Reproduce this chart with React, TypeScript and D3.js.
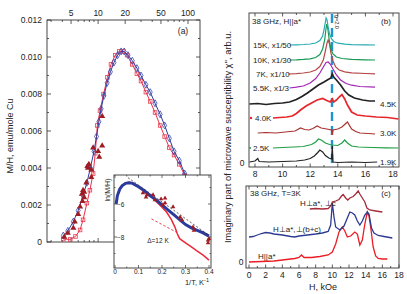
import React from 'react'
import * as d3 from 'd3'

// ---------- panel (a): M/H vs T ----------
const blueT = [4.1, 4.6, 5.3, 6.0, 6.8, 7.5, 8.2, 9.0, 9.6, 10.2, 10.8, 11.6, 12.6, 13.7, 15.0, 16.5, 18.0, 19.5, 21.5, 24, 27, 30, 34, 38, 43, 49, 55, 62, 70, 80, 92, 105, 120]
const blueMH = [0.00035, 0.0006, 0.0011, 0.0017, 0.0025, 0.0032, 0.0040, 0.0049, 0.0057, 0.0065, 0.0072, 0.0079, 0.0086, 0.0092, 0.0097, 0.0101, 0.0103, 0.0103, 0.0101, 0.0098, 0.0094, 0.0090, 0.0085, 0.0081, 0.0075, 0.0069, 0.0063, 0.0056, 0.0049, 0.0044, 0.0037, 0.0031, 0.0026]
const redT = [4.1, 4.9, 5.6, 6.3, 6.8, 7.5, 8.1, 8.8, 9.3, 9.8, 10.5, 11.5, 12.7, 13.9, 15.5, 17.2, 19, 21, 24, 27, 30, 34, 38, 43, 49, 55, 62, 70, 80, 92, 105, 120]
const redMH = [0.00016, 0.00014, 0.0003, 0.00065, 0.0012, 0.0021, 0.0028, 0.0037, 0.0048, 0.0063, 0.0071, 0.0080, 0.0089, 0.0096, 0.0101, 0.0103, 0.0103, 0.0101, 0.0096, 0.0091, 0.0087, 0.0081, 0.0076, 0.0070, 0.0063, 0.0057, 0.0051, 0.0047, 0.0042, 0.0036, 0.0030, 0.0025]
const triT = [4.2, 4.6, 5.3, 5.5, 6.0, 6.3, 6.6, 6.7, 6.8, 7.0, 7.0, 7.4, 7.6, 7.7, 7.9, 8.4, 8.4, 8.8, 10.0, 10.3, 11.1, 11.1]
const triMH = [0.00027, 0.00049, 0.00076, 0.0011, 0.0015, 0.0019, 0.0026, 0.0022, 0.0028, 0.0024, 0.0027, 0.0032, 0.0041, 0.0040, 0.0042, 0.0039, 0.0035, 0.0051, 0.0049, 0.0046, 0.0052, 0.0068]
const topTicks = [5, 10, 20, 50, 100]
const minorT = [3, 4, 5, 6, 7, 8, 9, 10, 20, 30, 40, 50, 60, 70, 80, 90, 100]
const mhTicks = [0, 0.002, 0.004, 0.006, 0.008, 0.010, 0.012]
const mhLabels = ['0', '0.002', '0.004', '0.006', '0.008', '0.010', '0.012']

// inset: ln(M/H) vs 1/T
const invBlue = [0.005, 0.01, 0.02, 0.03, 0.045, 0.06, 0.075, 0.1, 0.125, 0.15, 0.175, 0.2, 0.225, 0.25, 0.275, 0.3, 0.325, 0.35, 0.375, 0.4]
const lnBlue = [-6.0, -5.5, -5.1, -4.9, -4.75, -4.72, -4.75, -4.95, -5.2, -5.5, -5.75, -6.05, -6.35, -6.65, -6.95, -7.25, -7.45, -7.6, -7.75, -7.95]
const invRed = [0.005, 0.01, 0.02, 0.03, 0.045, 0.06, 0.075, 0.1, 0.125, 0.15, 0.175, 0.2, 0.22, 0.24, 0.255, 0.265, 0.275, 0.3, 0.325, 0.35, 0.375, 0.4]
const lnRed = [-6.0, -5.5, -5.1, -4.88, -4.72, -4.68, -4.72, -4.92, -5.18, -5.5, -5.85, -6.2, -6.5, -6.95, -7.4, -7.8, -8.1, -8.35, -8.6, -8.85, -9.1, -9.4]
const invTri = [0.119, 0.132, 0.136, 0.162, 0.17, 0.196, 0.204, 0.213, 0.213, 0.247, 0.277, 0.285, 0.332, 0.336, 0.396, 0.396, 0.4]
const lnTri = [-5.33, -5.58, -5.45, -5.45, -5.76, -5.7, -6.06, -5.94, -5.64, -6.18, -6.8, -6.97, -7.4, -7.6, -8.2, -8.36, -8.1]
const fitBlue = [[0.055, -4.4], [0.4, -7.9]]
const fitRed = [[0.155, -6.9], [0.26, -7.7]]
const invTicks = [0, 0.1, 0.2, 0.3, 0.4]
const lnTicks = [-6, -8]

// ---------- panel (b): chi'' vs H at several T, H||a* ----------
const bLabels = ['1.9K', '2.5K', '3.0K', '4.0K', '4.5K', '5.5K, x1/3', '7K, x1/10', '10K, x1/30', '15K, x1/50']
const bOffsets = [0, 1.4, 2.9, 4.4, 5.8, 7.4, 8.8, 10.2, 11.7]
const b19 = [[7.6, 0], [8.0, 0.1], [8.2, 0.35], [8.3, 0.05], [9.0, 0], [10.0, 0.05], [11.0, 0.1], [11.6, 0.2], [12.0, 0.35], [12.3, 0.6], [12.55, 0.95], [12.7, 1.2], [12.9, 1.0], [13.1, 0.65], [13.35, 0.4], [13.55, 0.3], [13.6, 1.6], [13.65, 0.0], [14.0, -0.05], [15.0, 0], [16.0, -0.05], [16.85, 0]]
const b25 = [[9.3, 0], [10.0, 0.05], [10.8, 0.1], [11.5, 0.15], [12.1, 0.35], [12.4, 0.6], [12.6, 0.9], [12.8, 0.8], [13.1, 0.5], [13.4, 0.35], [13.6, 0.3], [14.0, 0.25], [14.3, 0.5], [14.5, 0.8], [14.7, 0.5], [15.0, 0.2], [15.5, 0.1], [16.5, 0.05], [17.5, 0.02], [18.4, 0]]
const b30 = [[8.2, 0], [8.8, 0.05], [9.5, 0], [10.2, 0.1], [10.9, 0.2], [11.3, 0.5], [11.6, 0.35], [11.9, 0.3], [12.2, 0.45], [12.5, 0.7], [12.8, 0.5], [13.2, 0.4], [13.55, 0.3], [13.6, -0.2], [13.65, 0.3], [14.0, 0.4], [14.3, 0.6], [14.7, 1.1], [15.0, 0.4], [15.3, 0.15], [15.6, 0], [16.2, -0.05], [16.7, -0.1]]
const b40 = [[9.3, 0], [9.8, 0.05], [10.3, 0.1], [10.7, 0.2], [11.0, 0.45], [11.3, 0.8], [11.7, 1.2], [12.1, 1.5], [12.5, 1.8], [12.9, 1.95], [13.2, 1.75], [13.45, 1.6], [13.6, 1.9], [13.7, 1.6], [13.9, 1.8], [14.1, 2.1], [14.3, 2.35], [14.5, 1.9], [14.7, 1.3], [15.0, 0.6], [15.4, 0.3], [16.0, 0.2], [16.8, 0.1], [17.6, 0.05], [18.4, -0.1]]
const b45 = [[7.6, 0], [8.2, 0.05], [8.8, -0.05], [9.4, 0.05], [10.0, 0.1], [10.5, 0.2], [11.0, 0.45], [11.4, 0.75], [11.8, 1.1], [12.2, 1.5], [12.6, 1.9], [13.0, 2.2], [13.3, 2.45], [13.5, 2.6], [13.6, 3.0], [13.7, 2.7], [13.9, 2.4], [14.2, 1.9], [14.5, 1.3], [14.8, 0.9], [15.2, 0.6], [15.8, 0.4], [16.3, 0.3], [16.7, 0.3]]
const b55 = [[10.5, 0], [11.0, 0.08], [11.5, 0.2], [12.0, 0.5], [12.4, 0.95], [12.7, 1.5], [12.95, 2.1], [13.15, 2.55], [13.3, 2.6], [13.45, 2.4], [13.65, 1.9], [13.9, 1.3], [14.2, 0.8], [14.6, 0.45], [15.0, 0.28], [15.6, 0.15], [16.7, 0.08]]
const b7 = [[10.4, 0], [11.0, 0.04], [11.5, 0.1], [12.0, 0.2], [12.4, 0.4], [12.7, 0.75], [12.95, 1.4], [13.1, 2.3], [13.22, 3.1], [13.3, 3.4], [13.4, 3.0], [13.5, 2.1], [13.65, 1.3], [13.85, 0.7], [14.1, 0.4], [14.5, 0.22], [15.0, 0.12], [16.0, 0.05], [16.7, 0.02]]
const b10 = [[10.5, 0], [11.0, 0.02], [11.5, 0.06], [12.0, 0.12], [12.4, 0.25], [12.7, 0.55], [12.9, 1.1], [13.05, 2.0], [13.15, 3.2], [13.2, 3.6], [13.28, 3.1], [13.38, 2.0], [13.5, 1.1], [13.65, 0.6], [13.9, 0.3], [14.3, 0.15], [15.0, 0.06], [16.0, 0.02], [16.7, 0]]
const b15 = [[10.5, 0], [11.0, 0.02], [11.5, 0.05], [12.0, 0.1], [12.4, 0.2], [12.7, 0.45], [12.9, 0.9], [13.0, 1.5], [13.1, 2.3], [13.15, 2.7], [13.22, 2.5], [13.3, 1.8], [13.4, 1.1], [13.55, 0.6], [13.7, 0.35], [14.0, 0.18], [14.5, 0.08], [15.0, 0.04], [16.0, 0.02], [16.7, 0]]
const bTraces = [b19, b25, b30, b40, b45, b55, b7, b10, b15]
const gField = 13.58
const bTicks = [8, 10, 12, 14, 16, 18]

// ---------- panel (c): chi'' vs H at T=3K, three orientations ----------
const cLabels = ['H||a*', 'H\u22a5a*,\u22a5(b+c)', 'H\u22a5a*, \u22a5c']
const cOffsets = [0, 2.5, 5.3]
const cPar = [[0, 0], [1.5, 0.05], [3, 0.1], [4.5, 0.25], [5.5, 0.35], [6.0, 0.45], [6.3, 0.7], [6.6, 0.45], [7.5, 0.45], [8.5, 0.55], [9.5, 0.7], [10.0, 1.0], [10.4, 1.8], [10.8, 3.0], [11.2, 3.5], [11.5, 3.1], [11.8, 2.5], [12.2, 2.6], [12.7, 3.0], [13.0, 2.8], [13.3, 1.7], [13.6, 2.2], [13.9, 3.8], [14.2, 5.0], [14.4, 4.6], [14.6, 3.5], [14.9, 1.5], [15.2, 0.6], [15.5, 0.35], [16.0, 0.3], [16.6, 0.3]]
const cPerpBC = [[0, 0], [0.5, 0.05], [1.0, 0.2], [1.5, 0.35], [2.0, 0.45], [2.5, 0.4], [3.0, 0.3], [4.0, 0.2], [5.0, 0.05], [5.5, 0], [6.0, 0.1], [7.0, 0.2], [8.0, 0.3], [8.8, 0.4], [9.5, 0.55], [9.8, 1.2], [10.0, 3.4], [10.2, 2.0], [10.4, 1.0], [10.9, 0.7], [11.4, 1.1], [11.8, 1.9], [12.1, 2.5], [12.4, 2.4], [12.7, 2.2], [13.0, 1.6], [13.3, 1.2], [13.6, 1.6], [13.9, 2.2], [14.2, 2.5], [14.4, 2.3], [14.7, 0.9], [15.0, 0.4], [15.5, 0.15], [16.2, 0.05], [17.2, -0.1]]
const cPerpC = [[7.3, 0], [8.0, 0.05], [8.8, 0], [9.5, 0.05], [9.8, 0.3], [10.0, 0.7], [10.4, 0.8], [10.8, 0.95], [11.1, 1.3], [11.3, 1.45], [11.6, 1.1], [11.85, 0.9], [12.1, 1.1], [12.5, 1.25], [12.8, 1.5], [13.1, 1.8], [13.3, 1.5], [13.6, 1.1], [13.9, 0.7], [14.15, 0.1], [14.5, -0.1], [15.2, -0.2], [16.0, -0.3]]
const cTraces = [cPar, cPerpBC, cPerpC]
const cTicks = [0, 2, 4, 6, 8, 10, 12, 14, 16, 18]

const FONT = '"Liberation Sans", Arial, Helvetica, sans-serif'
const bColors = ['#222', '#1f9e45', '#a8322f', '#e8262a', '#222', '#a226b4', '#b44848', '#1a9a55', '#27aab0']
const cColors = ['#ec1c24', '#2c3a94', '#a52a3a']

export default function App() {
  // scales
  const xA = d3.scaleLog().domain([2.7, 136]).range([47, 200])
  const yA = d3.scaleLinear().domain([0, 0.012]).range([242, 20])
  const xI = d3.scaleLinear().domain([0, 0.4]).range([115, 209])
  const yI = d3.scaleLinear().domain([-8, -6]).range([237, 204])
  const xB = d3.scaleLinear().domain([8, 18]).range([255, 393])
  const yB = d3.scaleLinear().domain([0, 10]).range([162, 62])
  const xC = d3.scaleLinear().domain([0, 18]).range([249, 399])
  const yC = d3.scaleLinear().domain([0, 10]).range([262, 162])

  const lineA = d3.line<[number, number]>().x(d => xA(d[0])).y(d => yA(d[1]))
  const lineI = d3.line<number[]>().x(d => xI(d[0])).y(d => yI(d[1]))
  const blue = d3.zip(blueT, blueMH) as [number, number][]
  const red = d3.zip(redT, redMH) as [number, number][]
  const tri = d3.zip(triT, triMH) as [number, number][]
  const iBlue = d3.zip(invBlue, lnBlue)
  const iRed = d3.zip(invRed, lnRed)
  const iTri = d3.zip(invTri, lnTri)
  const diamond = d3.symbol(d3.symbolDiamond, 14)()
  const triangle = d3.symbol(d3.symbolTriangle, 16)()
  const triSmall = d3.symbol(d3.symbolTriangle, 9)()

  // frames
  const A = { l: 47, r: 200, t: 20, b: 242 }
  const I = { l: 114, r: 211, t: 175, b: 268 }
  const B = { l: 249, r: 399, t: 13, b: 167 }
  const C = { l: 246, r: 399, t: 186, b: 268 }

  const txt = { fontFamily: FONT, fill: '#222' }

  return (
    <svg width={407} height={294} style={{ position: 'absolute', left: 0, top: 0, background: '#fff' }}>
      <rect width={407} height={294} fill="#fff" />

      {/* ===== panel (a) ===== */}
      <g>
        <rect x={A.l} y={A.t} width={A.r - A.l} height={A.b - A.t} fill="none" stroke="#333" strokeWidth={0.9} />
        {d3.range(0, 13).map(i => {
          const y = yA(i * 0.001)
          const len = i % 2 === 0 ? 4 : 2
          return (
            <g key={'ya' + i}>
              <line x1={A.l} x2={A.l + len} y1={y} y2={y} stroke="#333" strokeWidth={0.8} />
              <line x1={A.r} x2={A.r - len} y1={y} y2={y} stroke="#333" strokeWidth={0.8} />
            </g>
          )
        })}
        {minorT.map(t => {
          const x = xA(t)
          const len = topTicks.includes(t) ? 4 : 2
          return (
            <g key={'ta' + t}>
              <line x1={x} x2={x} y1={A.t} y2={A.t + len} stroke="#333" strokeWidth={0.8} />
              <line x1={x} x2={x} y1={A.b} y2={A.b - len} stroke="#333" strokeWidth={0.8} />
            </g>
          )
        })}
        {mhTicks.map((v, i) => (
          <text key={'yl' + i} x={A.l - 5} y={yA(v) + 3} textAnchor="end" fontSize={8.5} {...txt}>{mhLabels[i]}</text>
        ))}
        {topTicks.map(t => (
          <text key={'tl' + t} x={xA(t)} y={16} textAnchor="middle" fontSize={8.5} {...txt}>{t}</text>
        ))}
        <text transform="translate(13,136) rotate(-90)" textAnchor="middle" fontSize={9} {...txt}>M/H, emu/mole Cu</text>
        <text x={183} y={34} textAnchor="middle" fontSize={8.5} {...txt}>(a)</text>

        <path d={lineA(red) || ''} fill="none" stroke="#e8304a" strokeWidth={1} />
        {red.map((d, i) => (
          <rect key={'rs' + i} x={xA(d[0]) - 1.8} y={yA(d[1]) - 1.8} width={3.6} height={3.6} fill="none" stroke="#ea3a50" strokeWidth={0.8} />
        ))}
        <path d={lineA(blue) || ''} fill="none" stroke="#2d3a9a" strokeWidth={1} />
        {blue.map((d, i) => (
          <path key={'bd' + i} d={diamond || ''} transform={`translate(${xA(d[0])},${yA(d[1])})`} fill="none" stroke="#3846ac" strokeWidth={0.8} />
        ))}
        {tri.map((d, i) => (
          <path key={'tr' + i} d={triangle || ''} transform={`translate(${xA(d[0])},${yA(d[1])})`} fill="#9e1c22" />
        ))}
      </g>

      {/* ===== inset ===== */}
      <g>
        <rect x={I.l} y={I.t} width={I.r - I.l} height={I.b - I.t} fill="#fff" stroke="#333" strokeWidth={0.9} />
        {d3.range(0, 9).map(i => {
          const x = xI(i * 0.05)
          const len = i % 2 === 0 ? 3 : 1.5
          return (
            <g key={'xi' + i}>
              <line x1={x} x2={x} y1={I.b} y2={I.b - len} stroke="#333" strokeWidth={0.7} />
              <line x1={x} x2={x} y1={I.t} y2={I.t + len} stroke="#333" strokeWidth={0.7} />
            </g>
          )
        })}
        {[-5, -6, -7, -8, -9].map(v => {
          const y = yI(v)
          const len = v % 2 === 0 ? 3 : 1.5
          return (
            <g key={'yi' + v}>
              <line x1={I.l} x2={I.l + len} y1={y} y2={y} stroke="#333" strokeWidth={0.7} />
              <line x1={I.r} x2={I.r - len} y1={y} y2={y} stroke="#333" strokeWidth={0.7} />
            </g>
          )
        })}
        {invTicks.map(v => (
          <text key={'il' + v} x={xI(v)} y={274} textAnchor="middle" fontSize={6.5} {...txt}>{v === 0 ? '0' : v.toFixed(1)}</text>
        ))}
        {lnTicks.map(v => (
          <text key={'ll' + v} x={I.l + 3} y={yI(v) + 2.5} fontSize={6.5} {...txt}>{'\u2212' + Math.abs(v)}</text>
        ))}
        <text transform="translate(110,190) rotate(-90)" textAnchor="middle" fontSize={7} {...txt}>ln(M/H)</text>
        <text x={209} y={285} textAnchor="end" fontSize={7.5} {...txt}>1/T, K<tspan dy={-3} fontSize={5.5}>-1</tspan></text>
        <text x={158} y={243} textAnchor="middle" fontSize={6.5} {...txt}>{'\u0394=12 K'}</text>

        <path d={lineI(iRed) || ''} fill="none" stroke="#ea2a3a" strokeWidth={1.5} />
        <path d={lineI(iBlue) || ''} fill="none" stroke="#2b3a9c" strokeWidth={3} />
        <path d={lineI(fitBlue) || ''} fill="none" stroke="#333" strokeWidth={0.8} strokeDasharray="2,2" />
        <path d={lineI(fitRed) || ''} fill="none" stroke="#e0303a" strokeWidth={0.9} strokeDasharray="2.5,2" />
        {iTri.map((d, i) => (
          <path key={'it' + i} d={triSmall || ''} transform={`translate(${xI(d[0])},${yI(d[1])})`} fill="#9e1c22" />
        ))}
      </g>

      {/* ===== panel (b) ===== */}
      <g>
        <rect x={B.l} y={B.t} width={B.r - B.l} height={B.b - B.t} fill="none" stroke="#333" strokeWidth={0.9} />
        {d3.range(8, 19).map(h => {
          const x = xB(h)
          const len = h % 2 === 0 ? 3.5 : 2
          return (
            <g key={'bt' + h}>
              <line x1={x} x2={x} y1={B.t} y2={B.t + len} stroke="#333" strokeWidth={0.8} />
              <line x1={x} x2={x} y1={B.b} y2={B.b - len} stroke="#333" strokeWidth={0.8} />
            </g>
          )
        })}
        {bTicks.map(h => (
          <text key={'bl' + h} x={xB(h)} y={177} textAnchor="middle" fontSize={8.5} {...txt}>{h}</text>
        ))}
        <text x={242} y={166} textAnchor="middle" fontSize={8.5} {...txt}>0</text>
        <line x1={xB(gField)} x2={xB(gField)} y1={B.t + 1} y2={B.b} stroke="#1e94d6" strokeWidth={2.4} strokeDasharray="9,5" />
        {bTraces.map((tr, i) => {
          const ln = d3.line<number[]>().x(d => xB(d[0])).y(d => yB(d[1] + bOffsets[i]))
          const w = i === 3 || i === 4 ? 1.7 : 1.2
          return <path key={'btr' + i} d={ln(tr) || ''} fill="none" stroke={bColors[i]} strokeWidth={w} />
        })}
        <text x={252} y={24} fontSize={8} {...txt}>38 GHz, H||a*</text>
        <text x={386} y={24} textAnchor="middle" fontSize={8} {...txt}>(b)</text>
        <text transform={`translate(${xB(gField) + 3},15) rotate(90)`} fontSize={5.5} {...txt}>g=2.0</text>
        {/* left-side labels */}
        {[8, 7, 6, 5].map(i => (
          <text key={'bll' + i} x={i === 6 ? 256 : 253} y={yB(bOffsets[i]) + 3} fontSize={8} {...txt}>{bLabels[i]}</text>
        ))}
        <text x={255} y={yB(bOffsets[3]) + 3} fontSize={8} {...txt}>{bLabels[3]}</text>
        <circle cx={251} cy={yB(bOffsets[3])} r={1.2} fill={bColors[3]} />
        <text x={253} y={yB(bOffsets[1]) + 3} fontSize={8} {...txt}>{bLabels[1]}</text>
        <circle cx={250} cy={yB(bOffsets[1])} r={1} fill={bColors[1]} />
        {/* right-side labels */}
        {[4, 2, 0].map(i => (
          <text key={'blr' + i} x={380} y={yB(bOffsets[i]) + 3} fontSize={8} {...txt}>{bLabels[i]}</text>
        ))}
      </g>

      {/* ===== panel (c) ===== */}
      <g>
        <rect x={C.l} y={C.t} width={C.r - C.l} height={C.b - C.t} fill="none" stroke="#333" strokeWidth={0.9} />
        {d3.range(0, 19).map(h => {
          const x = xC(h)
          const len = h % 2 === 0 ? 3.5 : 2
          return (
            <g key={'ct' + h}>
              <line x1={x} x2={x} y1={C.t} y2={C.t + len} stroke="#333" strokeWidth={0.8} />
              <line x1={x} x2={x} y1={C.b} y2={C.b - len} stroke="#333" strokeWidth={0.8} />
            </g>
          )
        })}
        {cTicks.map(h => (
          <text key={'cl' + h} x={xC(h)} y={278} textAnchor="middle" fontSize={8.5} {...txt}>{h}</text>
        ))}
        <text x={241} y={265} textAnchor="middle" fontSize={8.5} {...txt}>0</text>
        <text x={323} y={290} textAnchor="middle" fontSize={9} {...txt}>H, kOe</text>
        {cTraces.map((tr, i) => {
          const ln = d3.line<number[]>().x(d => xC(d[0])).y(d => yC(d[1] + cOffsets[i]))
          return <path key={'ctr' + i} d={ln(tr) || ''} fill="none" stroke={cColors[i]} strokeWidth={1.3} />
        })}
        <text x={250} y={196} fontSize={8} {...txt}>38 GHz, T=3K</text>
        <text x={386} y={196} textAnchor="middle" fontSize={8} {...txt}>(c)</text>
        <text x={258} y={259} fontSize={8} {...txt}>{cLabels[0]}</text>
        <text x={273} y={232} fontSize={8} {...txt}>{cLabels[1]}</text>
        <text x={300} y={206} fontSize={8} {...txt}>{cLabels[2]}</text>
      </g>

      <text transform="translate(231,137) rotate(-90)" textAnchor="middle" fontSize={9.3} {...txt}>
        Imaginary part of microwave susceptibility {'\u03c7'}'', arb.u.
      </text>
    </svg>
  )
}
